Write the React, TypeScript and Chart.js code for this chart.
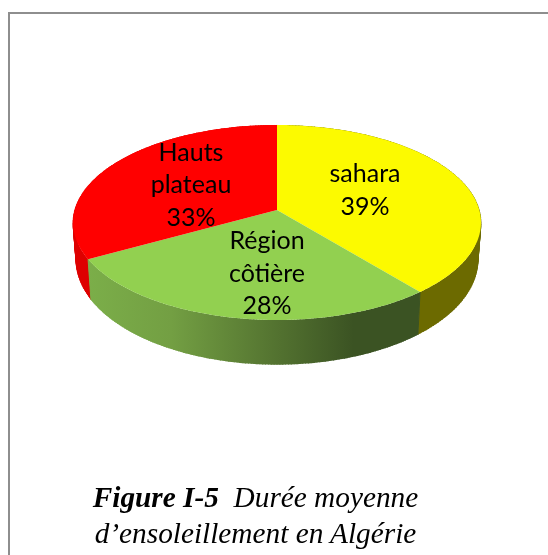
import React, { useEffect, useRef } from "react";
import { Chart, registerables } from "chart.js";

Chart.register(...registerables);

const categories = ["sahara", "Région côtière", "Hauts plateau"];
const shares = [39, 28, 33];
const labelLines = [["sahara", "39%"], ["Région", "côtière", "28%"], ["Hauts", "plateau", "33%"]];

const topColors = ["#FCFA00", "#92D050", "#FF0000"];
const labelCentres = [[365, 190.5], [267, 273.5], [191, 185]];
const LINE_H = 32.5;

// Perspective projection of the pie disc
const SX = 0.9633;
const SY = 0.4567;
const K = 0.128;
// Lower rim of the disc relative to the upper one
const BOTTOM = { sx: 0.985, sy: 1.07, dy: 37 };

function project(a: any, t: number, rim?: typeof BOTTOM) {
  const X = Math.cos(t);
  const Y = Math.sin(t);
  const d = 1 - K * Y;
  const R = a.outerRadius;
  const sx = rim ? rim.sx : 1;
  const sy = rim ? rim.sy : 1;
  const dy = rim ? rim.dy : 0;
  return [a.x + (sx * SX * R * X) / d, a.y + dy + (sy * SY * R * Y) / d];
}

function arcPoints(a: any, rim?: typeof BOTTOM) {
  const n = 140;
  const pts: number[][] = [];
  for (let i = 0; i <= n; i++) {
    pts.push(project(a, a.startAngle + ((a.endAngle - a.startAngle) * i) / n, rim));
  }
  return pts;
}

function wallFill(ctx: CanvasRenderingContext2D, index: number) {
  if (index === 0) return "#6C6A00";
  if (index === 2) return "#DE0000";
  const g = ctx.createLinearGradient(88, 0, 420, 0);
  g.addColorStop(0, "#7BAE49");
  g.addColorStop(0.25, "#739F43");
  g.addColorStop(0.55, "#557531");
  g.addColorStop(0.8, "#3B5323");
  g.addColorStop(1, "#3B5323");
  return g;
}

const pie3d = {
  id: "pie3d",
  beforeDatasetsDraw(chart: any) {
    const ctx: CanvasRenderingContext2D = chart.ctx;
    const arcs = chart.getDatasetMeta(0).data;
    // walls
    [2, 0, 1].forEach((i) => {
      const a = arcs[i];
      const top = arcPoints(a);
      const rim = arcPoints(a, BOTTOM);
      const fill = wallFill(ctx, i);
      ctx.beginPath();
      [...top, ...[...rim].reverse()].forEach((p, j) => (j ? ctx.lineTo(p[0], p[1]) : ctx.moveTo(p[0], p[1])));
      ctx.closePath();
      ctx.fillStyle = fill;
      ctx.fill();
      // sweep between the rims, so that the outline of the wall has no notch
      ctx.strokeStyle = fill;
      ctx.lineWidth = 1;
      ctx.beginPath();
      top.forEach((p, j) => {
        ctx.moveTo(p[0], p[1]);
        ctx.lineTo(rim[j][0], rim[j][1]);
      });
      ctx.stroke();
    });
    // top face
    arcs.forEach((a: any, i: number) => {
      ctx.beginPath();
      ctx.moveTo(a.x, a.y);
      arcPoints(a).forEach((p) => ctx.lineTo(p[0], p[1]));
      ctx.closePath();
      ctx.fillStyle = topColors[i];
      ctx.fill();
    });
    // labels
    ctx.fillStyle = "#000";
    ctx.font = '25px Lato, "Noto Sans", sans-serif';
    ctx.textAlign = "center";
    ctx.textBaseline = "middle";
    labelLines.forEach((lines, i) => {
      const [cx, cy] = labelCentres[i];
      lines.forEach((line, j) => {
        ctx.fillText(line, cx, cy + (j - (lines.length - 1) / 2) * LINE_H);
      });
    });
    return false;
  },
};

export default function App() {
  const ref = useRef<HTMLCanvasElement>(null);
  useEffect(() => {
    const chart = new Chart(ref.current!, {
      type: "pie",
      data: {
        labels: categories,
        datasets: [{ data: shares, backgroundColor: topColors, borderWidth: 0 }],
      },
      options: {
        animation: false,
        responsive: false,
        radius: 210,
        layout: { padding: { left: 6, bottom: 135 } },
        plugins: { legend: { display: false }, tooltip: { enabled: false } },
      } as any,
      plugins: [pie3d],
    });
    return () => chart.destroy();
  }, []);

  const caption: React.CSSProperties = {
    position: "absolute",
    left: 0,
    width: 511,
    textAlign: "center",
    whiteSpace: "pre",
    fontFamily: '"Liberation Serif", serif',
    fontStyle: "italic",
    fontSize: 29.3,
    lineHeight: "36px",
    color: "#000",
  };

  return (
    <div style={{ position: "fixed", left: 0, top: 0, width: 548, height: 555, overflow: "hidden", background: "#fff" }}>
      <canvas ref={ref} width={548} height={555} style={{ position: "absolute", left: 0, top: 0 }} />
      <div style={{ position: "absolute", left: 8, top: 12, width: 540, height: 543, borderLeft: "2px solid #8E8E8E", borderTop: "2px solid #8E8E8E", boxSizing: "border-box" }} />
      <div style={{ ...caption, top: 479 }}>
        <b>Figure I-5</b>{"  Durée moyenne"}
      </div>
      <div style={{ ...caption, top: 515 }}>d’ensoleillement en Algérie</div>
    </div>
  );
}
